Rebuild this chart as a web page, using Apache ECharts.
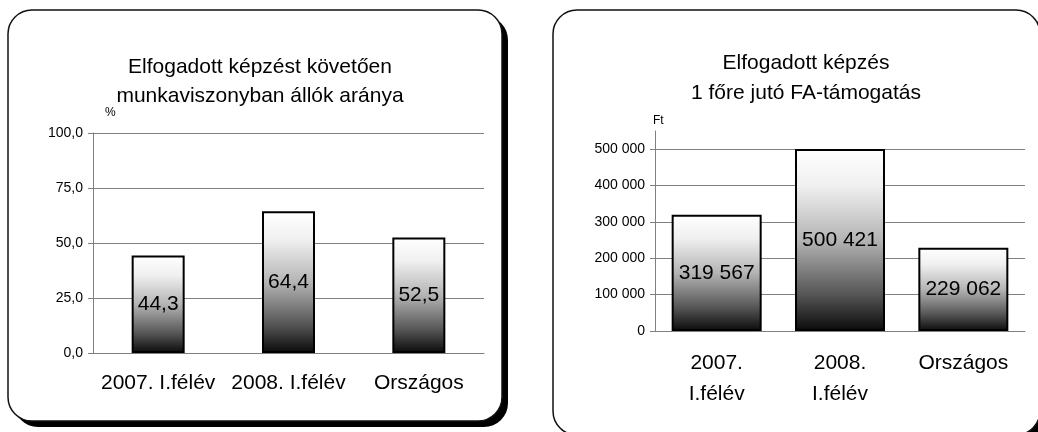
<!DOCTYPE html>
<html>
<head>
<meta charset="utf-8">
<script src="https://cdn.jsdelivr.net/npm/echarts@6/dist/echarts.min.js"></script>
<style>
  html, body { margin: 0; padding: 0; background: #fff; }
  #chart { width: 1038px; height: 432px; }
</style>
</head>
<body>
<div id="chart"></div>
<script>
// adatok
var catsLeft = ['2007. I.félév', '2008. I.félév', 'Országos'];
var valsLeft = [44.3, 64.4, 52.5];
var ticksLeft = [0, 25, 50, 75, 100];

var catsRight = ['2007.\nI.félév', '2008.\nI.félév', 'Országos'];
var valsRight = [319567, 500421, 229062];
var ticksRight = [0, 100000, 200000, 300000, 400000, 500000];

var FONT = '"Liberation Sans", Arial, sans-serif';

function comma1(v) { return v.toFixed(1).replace('.', ','); }
function spaced(v) { return String(Math.round(v)).replace(/\B(?=(\d{3})+(?!\d))/g, ' '); }

var barFill = new echarts.graphic.LinearGradient(0, 0, 0, 1, [
    { offset: 0, color: '#ffffff' },
    { offset: 0.2, color: '#f0f0f0' },
    { offset: 0.5, color: '#b4b4b4' },
    { offset: 0.8, color: '#555555' },
    { offset: 1, color: '#0a0a0a' }
]);

function panel(x, y, w, h) {
    return [
        { type: 'rect', z: -2, shape: { x: x + 6, y: y + 6, width: w, height: h, r: 24 }, style: { fill: '#000' } },
        { type: 'rect', z: -1, shape: { x: x, y: y, width: w, height: h, r: 24 }, style: { fill: '#fff', stroke: '#111', lineWidth: 1.5 } }
    ];
}

var chart = echarts.init(document.getElementById('chart'), null, { renderer: 'canvas' });
var option = {
    animation: false,
    textStyle: { fontFamily: FONT, color: '#000' },
    graphic: panel(8, 10, 494, 411).concat(panel(553, 10, 487, 425)),
    title: [
        {
            text: 'Elfogadott képzést követően\nmunkaviszonyban állók aránya',
            left: 255, top: 48, textAlign: 'center',
            textStyle: { fontFamily: FONT, fontSize: 21, fontWeight: 'normal', color: '#000', lineHeight: 29 }
        },
        {
            text: 'Elfogadott képzés\n1 főre jutó FA-támogatás',
            left: 801, top: 43, textAlign: 'center',
            textStyle: { fontFamily: FONT, fontSize: 21, fontWeight: 'normal', color: '#000', lineHeight: 30 }
        }
    ],
    grid: [
        { left: 93, right: 554, top: 133, bottom: 79 },
        { left: 655, right: 13, top: 131, bottom: 101 }
    ],
    xAxis: [
        {
            type: 'category', gridIndex: 0, data: catsLeft,
            axisLine: { lineStyle: { color: '#808080', width: 1 } },
            axisTick: { length: 5, lineStyle: { color: '#808080' } },
            axisLabel: { fontFamily: FONT, fontSize: 21, color: '#000', margin: 20, interval: 0 }
        },
        {
            type: 'category', gridIndex: 1, data: catsRight,
            axisLine: { lineStyle: { color: '#808080', width: 1 } },
            axisTick: { length: 5, lineStyle: { color: '#808080' } },
            axisLabel: { fontFamily: FONT, fontSize: 21, color: '#000', margin: 17, lineHeight: 31, interval: 0 }
        }
    ],
    yAxis: [
        {
            type: 'value', gridIndex: 0, min: 0, max: 100, interval: 25,
            name: '%', nameLocation: 'end', nameGap: 14,
            nameTextStyle: { fontFamily: FONT, fontSize: 12, color: '#000', align: 'left', padding: [0, 0, 0, 12] },
            axisLine: { show: true, lineStyle: { color: '#808080' } },
            axisTick: { show: true, length: 5, lineStyle: { color: '#808080' } },
            axisLabel: { fontFamily: FONT, fontSize: 14, color: '#000', margin: 10, formatter: comma1 },
            splitLine: { lineStyle: { color: '#808080' } }
        },
        {
            type: 'value', gridIndex: 1, min: 0, max: 550000, interval: 100000,
            name: 'Ft', nameLocation: 'end', nameGap: 4,
            nameTextStyle: { fontFamily: FONT, fontSize: 12, color: '#000', align: 'left', padding: [0, 0, 0, -2] },
            axisLine: { show: true, lineStyle: { color: '#808080' } },
            axisTick: { show: true, length: 5, lineStyle: { color: '#808080' }, customValues: ticksRight },
            axisLabel: { fontFamily: FONT, fontSize: 14, color: '#000', margin: 10, formatter: spaced, customValues: ticksRight },
            splitLine: { lineStyle: { color: '#808080' } }
        }
    ],
    series: [
        {
            type: 'bar', xAxisIndex: 0, yAxisIndex: 0, data: valsLeft, barWidth: 53,
            itemStyle: { color: barFill, borderColor: '#000', borderWidth: 2 },
            label: { show: true, position: 'inside', fontFamily: FONT, fontSize: 21, color: '#000', formatter: function (p) { return comma1(p.value); } }
        },
        {
            type: 'bar', xAxisIndex: 1, yAxisIndex: 1, data: valsRight, barWidth: 90,
            itemStyle: { color: barFill, borderColor: '#000', borderWidth: 2 },
            label: { show: true, position: 'inside', fontFamily: FONT, fontSize: 21, color: '#000', formatter: function (p) { return spaced(p.value); } }
        }
    ]
};
chart.setOption(option);
</script>
</body>
</html>
